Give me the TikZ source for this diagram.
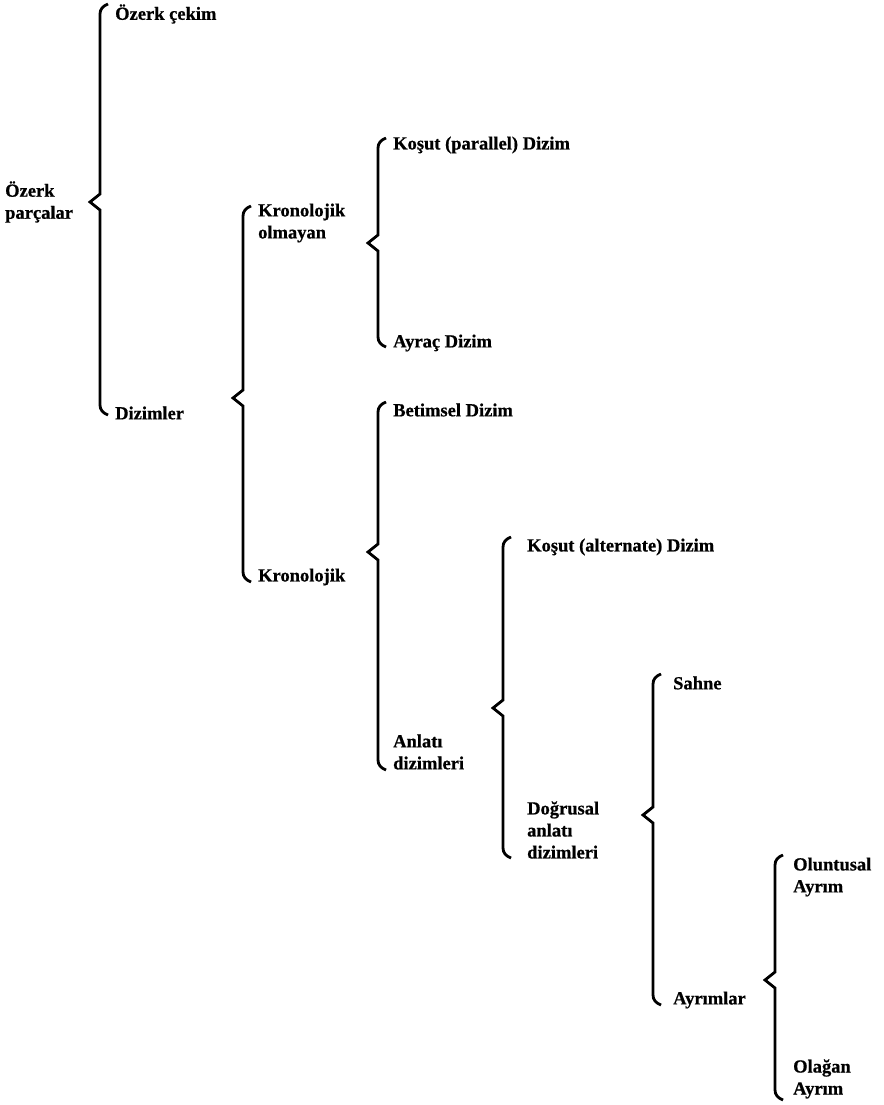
\documentclass[tikz,border=0pt]{standalone}
\usepackage{fontspec}
\setmainfont{Liberation Serif}
\newfontfamily\lblfont{Liberation Serif Bold}[FakeBold=0.7]
\newcommand\mybrace[4]{% x, top, tip, bottom
  \draw[brc] (#1+8,#2) .. controls (#1+3,#2+2) and (#1,#2+5) .. (#1,#2+10)
    -- (#1,#3-8) -- (#1-10,#3) -- (#1,#3+8) -- (#1,#4-10)
    .. controls (#1,#4-5) and (#1+3,#4-2) .. (#1+8,#4);}
\begin{document}
\begin{tikzpicture}[x=1pt,y=-1pt,
  lbl/.style={anchor=west,inner sep=0pt,align=left,font=\lblfont\fontsize{18.5}{22}\selectfont},
  brc/.style={line width=2.8pt,line join=miter,line cap=butt}]
\useasboundingbox (0,0) rectangle (883,1105);
% labels
\node[lbl] (ozc) at (115,14) {Özerk çekim};
\node[lbl] (ozp) at (5,202) {Özerk\\parçalar};
\node[lbl] (diz) at (115,413) {Dizimler};
\node[lbl] (kro) at (258,223) {Kronolojik\\olmayan};
\node[lbl] (kr) at (258,577) {Kronolojik};
\node[lbl] (kpar) at (393,145) {Koşut (parallel) Dizim};
\node[lbl] (ayr) at (393,343) {Ayraç Dizim};
\node[lbl] (bet) at (393,410) {Betimsel Dizim};
\node[lbl] (anl) at (393,752) {Anlatı\\dizimleri};
\node[lbl] (kalt) at (527,547) {Koşut (alternate) Dizim};
\node[lbl] (dog) at (527,830) {Doğrusal\\anlatı\\dizimleri};
\node[lbl] (sah) at (673,683) {Sahne};
\node[lbl] (ayrl) at (673,1000) {Ayrımlar};
\node[lbl] (olu) at (793,877) {Oluntusal\\Ayrım};
\node[lbl] (ola) at (793,1079) {Olağan\\Ayrım};
% braces
\mybrace{100}{4}{202}{415}
\mybrace{243}{206}{398}{582}
\mybrace{378}{138}{243}{347}
\mybrace{378}{402}{552}{770}
\mybrace{503}{537}{708}{858}
\mybrace{653}{674}{815}{1005}
\mybrace{775}{855}{980}{1100}
\end{tikzpicture}
\end{document}
